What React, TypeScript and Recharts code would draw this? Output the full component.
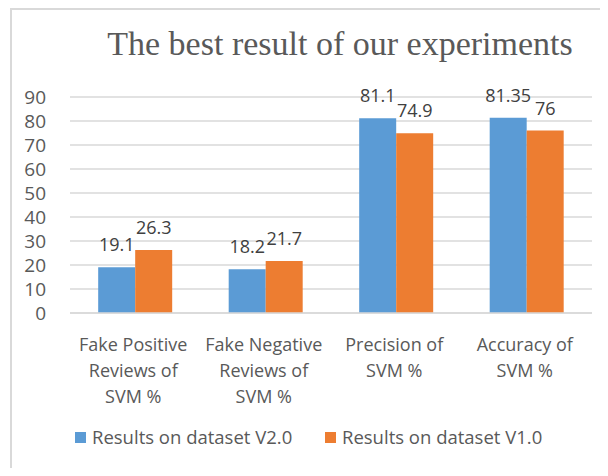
import React from "react";
import {
  BarChart,
  Bar,
  XAxis,
  YAxis,
  CartesianGrid,
  Legend,
  LabelList,
} from "recharts";

const categories = [
  "Fake Positive Reviews of SVM %",
  "Fake Negative Reviews of SVM %",
  "Precision of SVM %",
  "Accuracy of SVM %",
];
const categoryLines = [
  ["Fake Positive", "Reviews of", "SVM %"],
  ["Fake Negative", "Reviews of", "SVM %"],
  ["Precision of", "SVM %"],
  ["Accuracy of", "SVM %"],
];
const v2Values = [19.1, 18.2, 81.1, 81.35];
const v1Values = [26.3, 21.7, 74.9, 76];
const yTicks = [0, 10, 20, 30, 40, 50, 60, 70, 80, 90];
const seriesNames = ["Results on dataset V2.0", "Results on dataset V1.0"];

const BLUE = "#5B9BD5";
const ORANGE = "#ED7D31";
const TEXT = "#595959";
const FONT = "'Open Sans', sans-serif";

const data = categories.map((c, i) => ({
  category: c,
  v2: v2Values[i],
  v1: v1Values[i],
}));

function CategoryTick(props: any) {
  const { x, y, payload } = props;
  const lines = categoryLines[payload.index] || [payload.value];
  return (
    <g transform={`translate(${x},${y})`}>
      {lines.map((line, i) => (
        <text
          key={i}
          x={-2}
          y={30 + i * 26}
          textAnchor="middle"
          fill={TEXT}
          fontSize={18}
          fontFamily={FONT}
        >
          {line}
        </text>
      ))}
    </g>
  );
}

function LegendContent() {
  const colors = [BLUE, ORANGE];
  return (
    <div style={{ position: "relative", height: 26, fontFamily: FONT }}>
      {seriesNames.map((name, i) => (
        <div
          key={name}
          style={{
            position: "absolute",
            left: i === 0 ? 0 : 250,
            top: 0,
            display: "flex",
            alignItems: "center",
            whiteSpace: "nowrap",
          }}
        >
          <span
            style={{
              display: "inline-block",
              width: 11,
              height: 11,
              background: colors[i],
              marginRight: 6,
            }}
          />
          <span style={{ fontSize: 18.5, color: TEXT, lineHeight: "24px" }}>
            {name}
          </span>
        </div>
      ))}
    </div>
  );
}

export default function App() {
  return (
    <div
      style={{
        margin: -8,
        width: 608,
        height: 476,
        position: "relative",
        overflow: "hidden",
        background: "#fff",
      }}
    >
      <div
        style={{
          position: "absolute",
          left: 10,
          top: 8,
          width: 640,
          height: 500,
          border: "2px solid #d9d9d9",
        }}
      />
      <div
        style={{
          position: "absolute",
          left: 70,
          width: 540,
          top: 25,
          textAlign: "center",
          fontFamily: "'Liberation Serif', 'Times New Roman', serif",
          fontSize: 34,
          color: TEXT,
        }}
      >
        The best result of our experiments
      </div>
      <div style={{ position: "absolute", left: 0, top: 0 }}>
        <BarChart
          width={608}
          height={476}
          data={data}
          margin={{ top: 97, right: 16, left: 0, bottom: 0 }}
          barCategoryGap="21.6%"
          barGap={0}
        >
          <CartesianGrid vertical={false} stroke="#d9d9d9" strokeWidth={1.5} />
          <XAxis
            dataKey="category"
            interval={0}
            height={137}
            tick={<CategoryTick />}
            tickLine={false}
            axisLine={{ stroke: "#d9d9d9", strokeWidth: 1.5 }}
          />
          <YAxis
            width={70}
            domain={[0, 90]}
            ticks={yTicks}
            interval={0}
            tickLine={false}
            axisLine={false}
            tickMargin={18}
            tick={{ fill: TEXT, fontSize: 19, fontFamily: FONT }}
          />
          <Legend
            verticalAlign="bottom"
            content={<LegendContent />}
            wrapperStyle={{ position: "absolute", top: 425, left: 75, width: 500, height: 26 }}
          />
          <Bar dataKey="v2" name={seriesNames[0]} fill={BLUE} isAnimationActive={false}>
            <LabelList
              dataKey="v2"
              position="top"
              offset={16}
              fill="#404040"
              fontSize={18}
              fontFamily={FONT}
            />
          </Bar>
          <Bar dataKey="v1" name={seriesNames[1]} fill={ORANGE} isAnimationActive={false}>
            <LabelList
              dataKey="v1"
              position="top"
              offset={16}
              fill="#404040"
              fontSize={18}
              fontFamily={FONT}
            />
          </Bar>
        </BarChart>
      </div>
    </div>
  );
}
